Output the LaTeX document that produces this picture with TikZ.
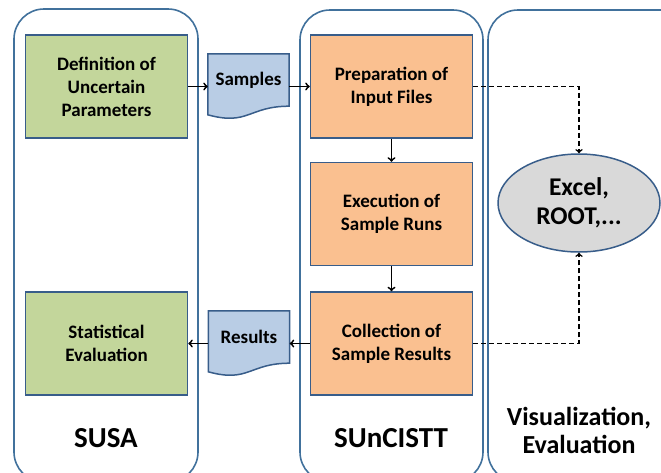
\documentclass[tikz,border=0pt]{standalone}
\usepackage{fontspec}
\setmainfont{Carlito}
\usepackage{tikz}
\usetikzlibrary{shapes.geometric}
\usetikzlibrary{arrows}
\usetikzlibrary{backgrounds}

\definecolor{laneline}{HTML}{41719C}
\definecolor{boxline}{HTML}{385D8A}
\definecolor{inputgreen}{HTML}{C3D69B}
\definecolor{runorange}{HTML}{FAC090}
\definecolor{paperblue}{HTML}{B9CDE5}
\definecolor{toolgrey}{HTML}{D9D9D9}

\newcommand{\paperoutline}[1]{%
	\filldraw[fill=paperblue, draw=boxline, line width=1.5pt]
		(#1.north west) -- (#1.north east) -- (#1.south east)
		.. controls (#1.south) and ([yshift=-19.8pt]#1.south) .. ([yshift=-8.6pt]#1.south west) -- cycle;}

\begin{document}
\begin{tikzpicture}[x=1pt, y=-1pt,
		lane/.style={draw=laneline, line width=1.6pt, rounded corners=30pt},
		stepbox/.style={draw=boxline, line width=1.5pt, minimum width=162pt, minimum height=103pt, inner sep=0pt, align=center, font=\fontsize{19}{23}\selectfont\bfseries},
		paper/.style={minimum width=81pt, minimum height=52pt, inner sep=0pt, font=\fontsize{19}{23}\selectfont\bfseries},
		tool/.style={ellipse, draw=boxline, fill=toolgrey, line width=1.5pt, minimum width=162pt, minimum height=98pt, inner sep=0pt, align=center, font=\fontsize{25.5}{29}\selectfont\bfseries},
		lanetitle/.style={align=center, font=\fontsize{29}{34}\selectfont\bfseries},
		flow/.style={->, line width=1.8pt},
		dataflow/.style={->, line width=1.6pt, dash pattern=on 5pt off 3pt}]
		\useasboundingbox (0,0) rectangle (661,472);
		
		% swim lanes
		\begin{scope}
			\clip (0,0) rectangle (661,472);
			\draw[lane] (14,9) rectangle (198,482);
			\draw[lane] (300,10) rectangle (483,482);
			\draw[lane] (488,10) rectangle (690,482);
		\end{scope}
		
		\node[stepbox, fill=inputgreen] (def) at (106.5,86.5) {Definition of\\Uncertain\\Parameters};
		\node[stepbox, fill=runorange] (prep) at (391.5,86.5) {Preparation of\\Input Files};
		\node[stepbox, fill=runorange] (exec) at (391.5,214) {Execution of\\Sample Runs};
		\node[stepbox, fill=runorange] (coll) at (391.5,343.5) {Collection of\\Sample Results};
		\node[stepbox, fill=inputgreen] (stat) at (106.5,343.5) {Statistical\\Evaluation};
		\node[paper] (samples) at (248.5,80) {Samples};
		\node[paper] (results) at (249,337) {Results};
		\node[tool] (tools) at (579,203) {Excel,\\ROOT,...};
		
		\begin{scope}[on background layer]
			\paperoutline{samples}
			\paperoutline{results}
		\end{scope}
		
		\draw[flow] (def.east) -- (def.east -| samples.west);
		\draw[flow] (samples.east |- prep.west) -- (prep.west);
		\draw[flow] (prep) -- (exec);
		\draw[flow] (exec) -- (coll);
		\draw[flow] (coll.west) -- (coll.west -| results.east);
		\draw[flow] (results.west |- stat.east) -- (stat.east);
		\draw[dataflow] (prep.east) -| (tools.north);
		\draw[dataflow] (coll.east) -| (tools.south);
		
		\node[lanetitle] (susa) at (106,438) {SUSA};
		\node[lanetitle] (suncistt) at (391,438) {SUnCISTT};
		\node[lanetitle, font=\fontsize{26}{28}\selectfont\bfseries] (visual) at (579,430) {Visualization,\\Evaluation};
	\end{tikzpicture}
\end{document}
